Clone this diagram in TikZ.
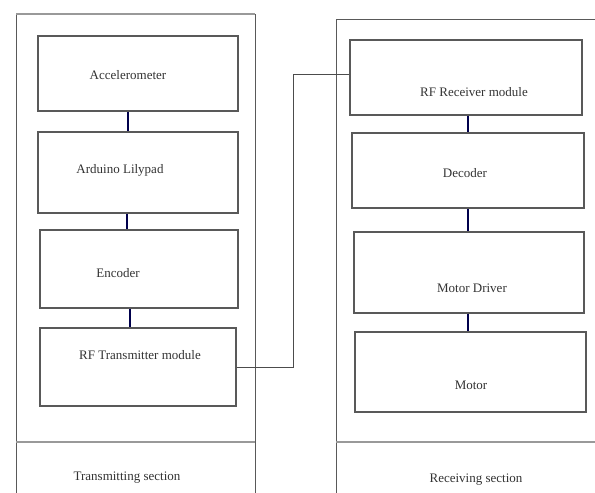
\documentclass[tikz,border=0pt]{standalone}
\usepackage{fontspec}
\setmainfont{Liberation Serif}
\begin{document}
\begin{tikzpicture}
        [
            x = 1pt, y = -1pt,
            block/.style = {draw = black!65, line width = 1.2pt, inner sep = 0pt},
            label text/.style = {text = black!80, font = \fontsize{13}{15}\selectfont, inner sep = 0pt},
            link/.style = {draw = blue!30!black, line width = 2.6pt},
            wire/.style = {draw = black!70, line width = 0.9pt},
            frame/.style = {draw = black!65, line width = 1pt},
            divider/.style = {draw = black!40, line width = 2.4pt}
        ]
            \useasboundingbox [fill = white] (0,0) rectangle (595,493);
            \draw [frame] (16,493) -- (16,14) -- (255,14) -- (255,493);
            \draw [black!40, line width = 1.4pt] (16,14) -- (255,14);
            \draw [frame] (336,493) -- (336,19) -- (595,19);
            \draw [divider] (16,442) -- (255,442);
            \draw [divider] (336,442) -- (595,442);

            \node [block, minimum width = 200pt, minimum height = 75pt] (acc) at (138,73.5) {};
            \node [block, minimum width = 200pt, minimum height = 81pt] (ard) at (138,172.5) {};
            \node [block, minimum width = 198pt, minimum height = 78pt] (enc) at (139,269) {};
            \node [block, minimum width = 196pt, minimum height = 78pt] (rft) at (138,367) {};
            \node [block, minimum width = 232pt, minimum height = 75pt] (rfr) at (466,77.5) {};
            \node [block, minimum width = 232pt, minimum height = 75pt] (dec) at (468,170.5) {};
            \node [block, minimum width = 230pt, minimum height = 81pt] (mdr) at (469,272.5) {};
            \node [block, minimum width = 231pt, minimum height = 80pt] (mot) at (470.5,372) {};

            \node [label text] (acc text) at (128,75) {Accelerometer};
            \node [label text] (ard text) at (120,170) {Arduino Lilypad};
            \node [label text] (enc text) at (118,273) {Encoder};
            \node [label text] (rft text) at (140,355) {RF Transmitter module};
            \node [label text] (rfr text) at (474,92) {RF Receiver module};
            \node [label text] (dec text) at (465,173) {Decoder};
            \node [label text] (mdr text) at (472,288) {Motor Driver};
            \node [label text] (mot text) at (471,385) {Motor};
            \node [label text] (tx section) at (127,478) {Transmitting section};
            \node [label text] (rx section) at (476,480) {Receiving section};

            \draw [link] ([xshift = -10pt]acc.south) -- ([xshift = -10pt]acc.south |- ard.north);
            \draw [link] ([xshift = -11pt]ard.south) -- ([xshift = -11pt]ard.south |- enc.north);
            \draw [link] ([xshift = -9pt]enc.south) -- ([xshift = -9pt]enc.south |- rft.north);
            \draw [link] ([xshift = 2pt]rfr.south) -- ([xshift = 2pt]rfr.south |- dec.north);
            \draw [link] (dec.south) -- (dec.south |- mdr.north);
            \draw [link] ([xshift = -1pt]mdr.south) -- ([xshift = -1pt]mdr.south |- mot.north);

            \draw [wire] (rft.east) -- ++(57,0) |- ([yshift = 3.5pt]rfr.west);
        \end{tikzpicture}
\end{document}
